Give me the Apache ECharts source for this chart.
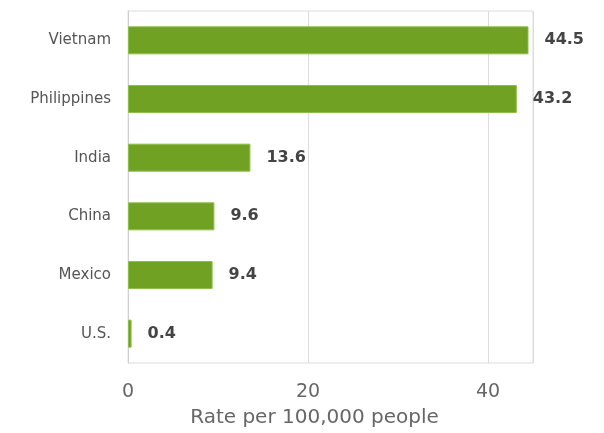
<!DOCTYPE html>
<html><head><meta charset="utf-8">
<script src="https://cdn.jsdelivr.net/npm/echarts@6/dist/echarts.min.js"></script>
<style>html,body{margin:0;padding:0;background:#fff}#c{width:604px;height:433px}</style>
</head><body><div id="c"></div>
<script>
const categories = ["Vietnam", "Philippines", "India", "China", "Mexico", "U.S."];
const values = [44.5, 43.2, 13.6, 9.6, 9.4, 0.4];
const xTicks = [0, 20, 40];
const xTitle = "Rate per 100,000 people";

const chart = echarts.init(document.getElementById('c'));
chart.setOption({
  animation: false,
  grid: {left: 128, right: 71, top: 11, bottom: 67, show: true, borderColor: '#dcdcdc', borderWidth: 1},
  xAxis: {
    type: 'value', min: 0, max: 45, interval: 20,
    name: xTitle, nameLocation: 'middle', nameGap: 45,
    nameTextStyle: {fontFamily: 'DejaVu Sans', fontSize: 20, color: '#666', padding: [0, 32, 0, 0]},
    axisLine: {show: false}, axisTick: {show: false},
    axisLabel: {fontFamily: 'DejaVu Sans', fontSize: 19, color: '#666', margin: 20, showMaxLabel: false,
      formatter: v => xTicks.includes(v) ? String(v) : ''},
    splitLine: {lineStyle: {color: '#dcdcdc'}}
  },
  yAxis: {
    type: 'category', data: categories, inverse: true,
    axisLine: {show: true, lineStyle: {color: '#d0d0d0'}}, axisTick: {show: false},
    axisLabel: {fontFamily: 'DejaVu Sans', fontSize: 15, color: '#555', margin: 17}
  },
  series: [{
    type: 'bar', data: values, barWidth: 28,
    itemStyle: {color: '#71a123', borderColor: '#8cbf4a', borderWidth: 1},
    label: {show: true, position: 'right', distance: 16, fontFamily: 'DejaVu Sans', fontWeight: 'bold', fontSize: 16, color: '#444',
      formatter: p => p.value.toFixed(1)}
  }]
});
</script></body></html>
